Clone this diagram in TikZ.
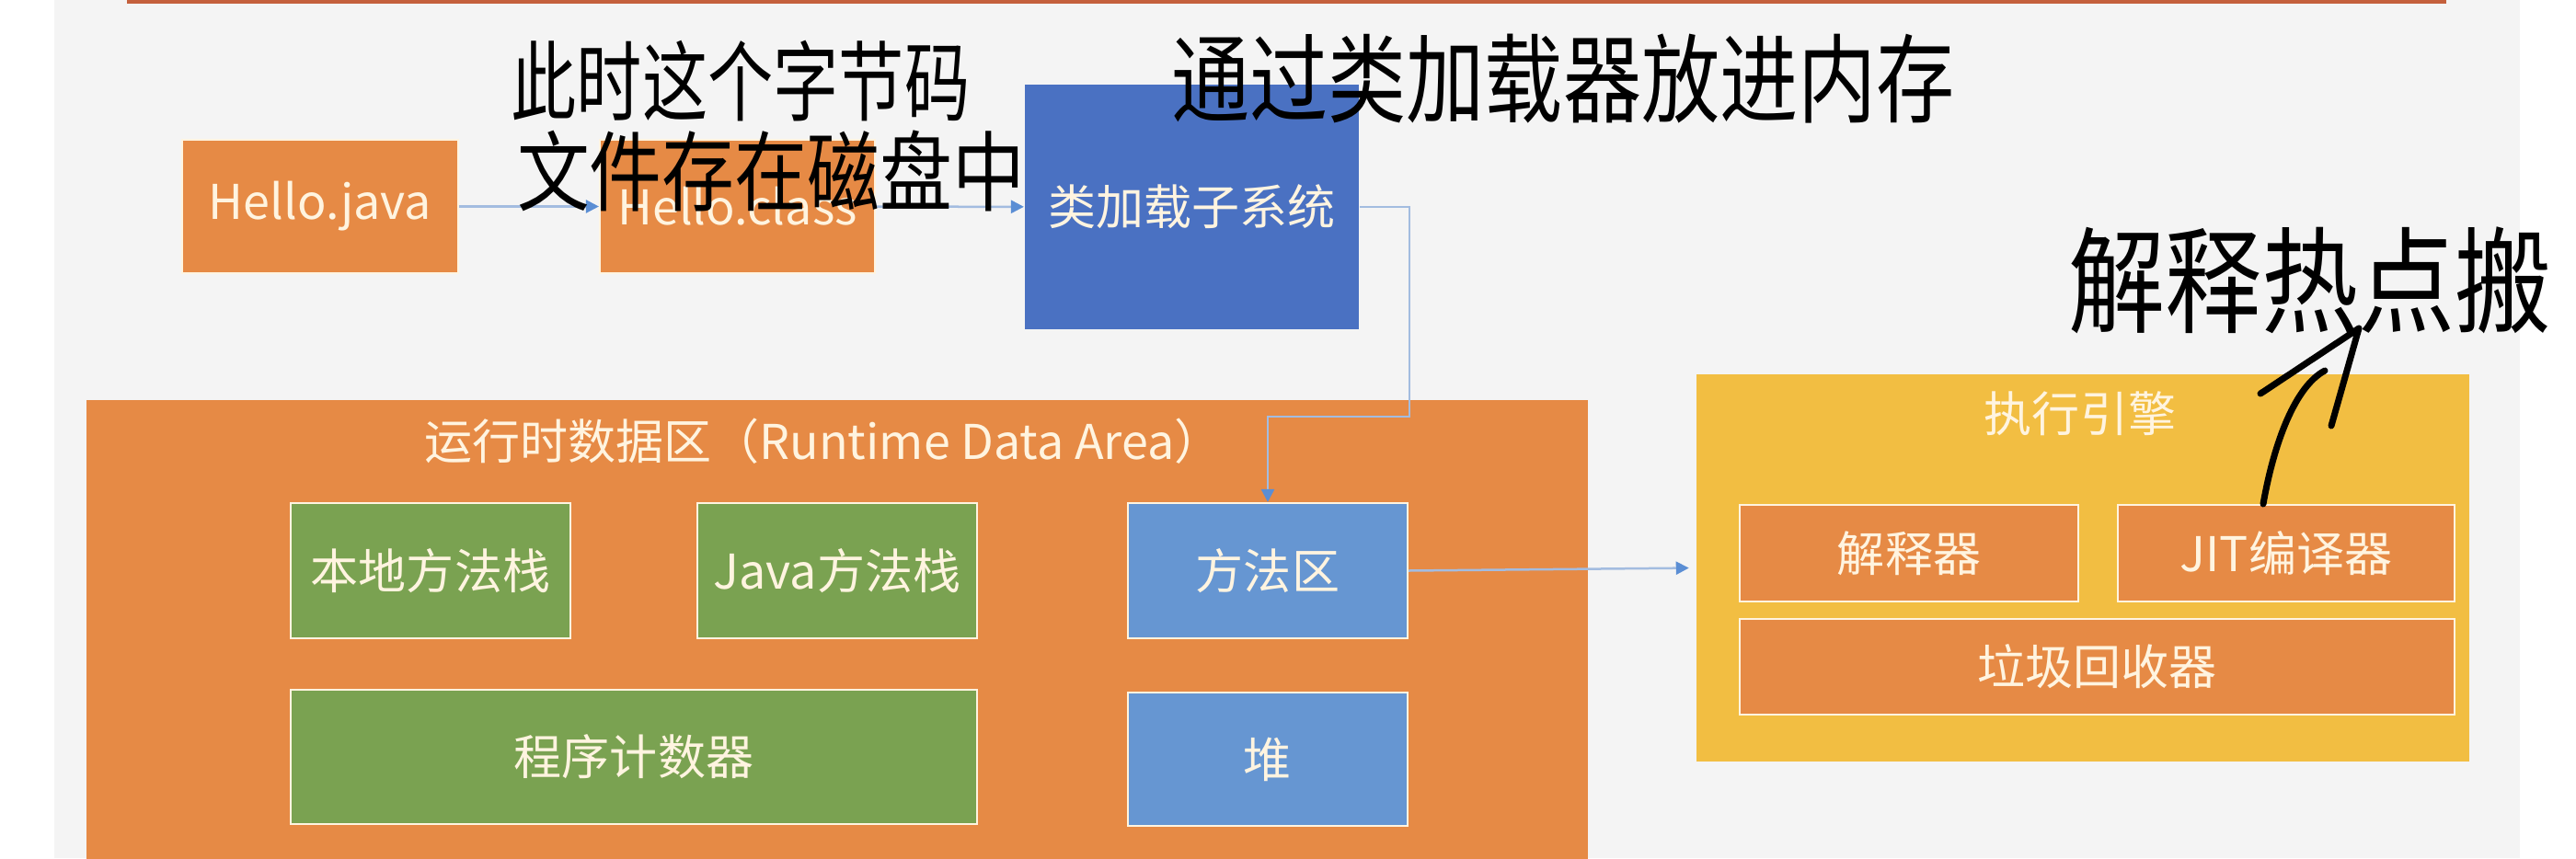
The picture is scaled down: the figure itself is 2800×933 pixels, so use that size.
\documentclass[tikz,border=0pt]{standalone}
\usepackage{fontspec}
\usepackage{graphicx}
\setmainfont{Noto Sans CJK SC}
\newfontfamily\handfont{Noto Sans CJK SC}
\usetikzlibrary{arrows.meta}
\definecolor{bggray}{HTML}{F4F4F4}
\definecolor{topline}{HTML}{C4603C}
\definecolor{orangebox}{HTML}{E68A45}
\definecolor{bluebox}{HTML}{4A71C2}
\definecolor{lightblue}{HTML}{6696D2}
\definecolor{greenbox}{HTML}{7AA251}
\definecolor{yellowbox}{HTML}{F2BE42}
\definecolor{cream}{HTML}{FFF4E0}
\definecolor{connline}{HTML}{A3BCE0}
\definecolor{conntip}{HTML}{5B8ED4}
\tikzset{
  box/.style={draw=cream, line width=0.02cm, text=cream, inner sep=0pt, align=center,
    font=\fontsize{14.8pt}{17pt}\selectfont},
  bigtitle/.style={text=cream, inner sep=0pt, font=\fontsize{14.8pt}{17pt}\selectfont},
  conn/.style={draw=connline, line width=0.025cm,
    -{Triangle[length=0.14cm,width=0.14cm,fill=conntip,color=conntip]}},
  hw/.style={draw=black, line width=0.07cm, line cap=round, line join=round},
  handtext/.style={text=black, inner sep=0pt},
}
\begin{document}
\begin{tikzpicture}[x=0.01cm,y=-0.01cm]
\useasboundingbox (0,0) rectangle (2800,933);
\clip (0,0) rectangle (2800,933);
\fill[bggray] (59,0) rectangle (2739,933);
\fill[topline] (138,0) rectangle (2659,4);

% top row
\node[box, fill=orangebox, minimum width=3.00cm, minimum height=1.45cm] (hj) at (348,224.5) {Hello.java};
\node[box, fill=orangebox, minimum width=2.99cm, minimum height=1.45cm] (hc) at (801.5,224.5) {Hello.class};
\node[box, fill=bluebox, draw=none, minimum width=3.63cm, minimum height=2.66cm] (cl) at (1295.5,225) {类加载子系统};

% runtime data area
\node[box, fill=orangebox, draw=none, minimum width=16.32cm, minimum height=5.25cm] (rda) at (910,697.5) {};
\node[bigtitle] (rdaT) at (895,480) {运行时数据区（Runtime Data Area）};
\node[box, fill=greenbox, minimum width=3.04cm, minimum height=1.47cm] (bd) at (468,620.5) {本地方法栈};
\node[box, fill=greenbox, minimum width=3.04cm, minimum height=1.47cm] (jv) at (910,620.5) {Java方法栈};
\node[box, fill=lightblue, minimum width=3.04cm, minimum height=1.47cm] (ff) at (1378,620.5) {方法区};
\node[box, fill=greenbox, minimum width=7.46cm, minimum height=1.46cm] (pc) at (689,823) {程序计数器};
\node[box, fill=lightblue, minimum width=3.04cm, minimum height=1.45cm] (heap) at (1378,825.5) {堆};

% execution engine
\node[box, fill=yellowbox, draw=none, minimum width=8.40cm, minimum height=4.21cm] (ee) at (2264,617.5) {};
\node[bigtitle] (eeT) at (2261,450) {执行引擎};
\node[box, fill=orangebox, minimum width=3.68cm, minimum height=1.05cm] (jsq) at (2075,601.5) {解释器};
\node[box, fill=orangebox, minimum width=3.66cm, minimum height=1.05cm] (jit) at (2485,601.5) {JIT编译器};
\node[box, fill=orangebox, minimum width=7.77cm, minimum height=1.04cm] (gc) at (2279.5,725) {垃圾回收器};

% connectors
\draw[conn] (hj) -- (hc);
\draw[conn] (hc) -- (cl);
\coordinate (bend) at (1532,453);
\draw[conn] (cl.east) -| (bend) -| (ff.north);
\draw[conn, shorten >=0.07cm] (ff.east) -- (ee.west);

% handwritten notes
\node[handtext] (n1a) at (805,88) {\handfont\fontsize{27pt}{29pt}\selectfont\scalebox{0.75}[1]{此时这个字节码}};
\node[handtext] (n1b) at (838,186) {\handfont\fontsize{27pt}{29pt}\selectfont\scalebox{0.83}[1]{文件存在磁盘中}};
\node[handtext] (n2) at (1699,86) {\handfont\fontsize{29.9pt}{32pt}\selectfont\scalebox{0.81}[1]{通过类加载器放进内存}};
\node[handtext] (n3) at (2511,305) {\handfont\fontsize{35.6pt}{38pt}\selectfont\scalebox{0.84}[1]{解释热点搬}};

\coordinate (shaftEnd) at (2527,403);
\coordinate (headL) at (2457,428);
\coordinate (headTip) at (2564,357);
\coordinate (headR) at (2534,463);
\draw[hw] ([xshift=-0.25cm]jit.north) .. controls (2472,480) and (2495,420) .. (shaftEnd);
\draw[hw] (headL) -- (headTip) -- (headR);
\end{tikzpicture}
\end{document}
